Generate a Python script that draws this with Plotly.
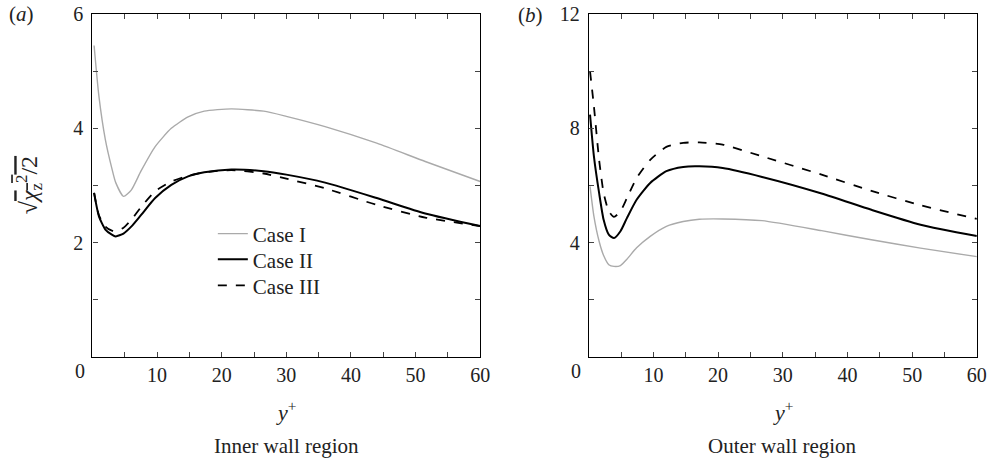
import plotly.graph_objects as go

# ---- data ----
x_in = [0.25, 1, 2, 3, 3.6, 4.8, 6, 7.5, 9.7, 12.2, 14.8, 17.3, 21.5, 26.5, 30, 36, 44, 51.5, 60]
inner_case1 = [5.45, 4.56, 3.80, 3.30, 3.05, 2.81, 2.92, 3.25, 3.68, 4.00, 4.20, 4.30, 4.34, 4.30, 4.21, 4.03, 3.74, 3.42, 3.07]
inner_case2 = [2.87, 2.46, 2.23, 2.14, 2.11, 2.16, 2.28, 2.48, 2.78, 3.01, 3.16, 3.23, 3.28, 3.25, 3.19, 3.05, 2.78, 2.51, 2.29]
inner_case3 = [2.87, 2.48, 2.28, 2.21, 2.20, 2.26, 2.40, 2.62, 2.90, 3.07, 3.17, 3.23, 3.27, 3.21, 3.12, 2.95, 2.66, 2.44, 2.29]

x_out = [0.2, 0.8, 1.6, 2.3, 3.1, 3.9, 4.9, 5.9, 7.4, 9.5, 12, 14.6, 17.1, 20.7, 26.8, 36, 43.7, 51.3, 60]
outer_case1 = [5.97, 4.92, 4.05, 3.55, 3.23, 3.17, 3.20, 3.42, 3.82, 4.22, 4.57, 4.74, 4.82, 4.83, 4.77, 4.42, 4.10, 3.81, 3.51]
outer_case2 = [8.48, 7.02, 5.74, 4.80, 4.28, 4.16, 4.40, 4.86, 5.50, 6.09, 6.50, 6.65, 6.67, 6.61, 6.30, 5.72, 5.15, 4.63, 4.23]
outer_case3 = [9.99, 8.77, 6.90, 5.74, 5.10, 4.90, 5.10, 5.56, 6.26, 6.90, 7.35, 7.49, 7.51, 7.43, 7.02, 6.38, 5.81, 5.31, 4.83]

case_names = ["Case I", "Case II", "Case III"]
x_ticks = [0, 5, 10, 15, 20, 25, 30, 35, 40, 45, 50, 55, 60]
x_ticktext = ["", "", "10", "", "20", "", "30", "", "40", "", "50", "", "60"]
y_ticks_in = [0, 1, 2, 3, 4, 5, 6]
y_ticktext_in = ["", "", "2", "", "4", "", "6"]
y_ticks_out = [0, 2, 4, 6, 8, 10, 12]
y_ticktext_out = ["", "", "4", "", "8", "", "12"]

FONT = "Liberation Serif"
TXT = "#222"
styles = [dict(color="#aaaaaa", width=1.4, dash="solid"),
          dict(color="black", width=2, dash="solid"),
          dict(color="black", width=1.8, dash="dash")]
legend_keys = ["legend", "legend2", "legend3"]

fig = go.Figure()
for i, (ys, name) in enumerate(zip([inner_case1, inner_case2, inner_case3], case_names)):
    fig.add_trace(go.Scatter(x=x_in, y=ys, mode="lines", name=name,
                             line=dict(shape="spline", smoothing=0.6, **styles[i]),
                             xaxis="x", yaxis="y", showlegend=True, legend=legend_keys[i]))
for i, (ys, name) in enumerate(zip([outer_case1, outer_case2, outer_case3], case_names)):
    fig.add_trace(go.Scatter(x=x_out, y=ys, mode="lines", name=name,
                             line=dict(shape="spline", smoothing=0.6, **styles[i]),
                             xaxis="x2", yaxis="y2", showlegend=False))

axis_common = dict(showline=True, linecolor="black", linewidth=1.2, mirror="ticks", ticks="inside",
                   ticklen=5, tickcolor="#444", tickwidth=1, showgrid=False, zeroline=False,
                   tickfont=dict(family=FONT, size=20, color=TXT))

leg_common = dict(xanchor="left", yanchor="middle", bgcolor="rgba(0,0,0,0)",
                  font=dict(family=FONT, size=21, color=TXT), borderwidth=0)

fig.update_layout(
    width=999, height=459,
    margin=dict(l=0, r=0, t=14, b=102),
    plot_bgcolor="white", paper_bgcolor="white",
    xaxis=dict(domain=[0.0935, 0.4855], range=[0, 60], tickvals=x_ticks, ticktext=x_ticktext, anchor="y", **axis_common),
    yaxis=dict(domain=[0, 1], range=[0, 6], tickvals=y_ticks_in, ticktext=y_ticktext_in, anchor="x", ticklabelstandoff=4, **axis_common),
    xaxis2=dict(domain=[0.5953, 0.9877], range=[0, 60], tickvals=x_ticks, ticktext=x_ticktext, anchor="y2", **axis_common),
    yaxis2=dict(domain=[0, 1], range=[0, 12], tickvals=y_ticks_out, ticktext=y_ticktext_out, anchor="x2", ticklabelstandoff=4, **axis_common),
    legend=dict(x=0.2152, y=0.3586, **leg_common),
    legend2=dict(x=0.2152, y=0.2837, **leg_common),
    legend3=dict(x=0.2152, y=0.2079, **leg_common),
    showlegend=True,
)

ann = []
for xp in [0.0805, 0.5820]:
    ann.append(dict(xref="paper", yref="paper", x=xp, y=-0.042, text="0", showarrow=False,
                    xanchor="center", yanchor="middle", font=dict(family=FONT, size=20, color=TXT)))
for xp in [0.2895, 0.7915]:
    ann.append(dict(xref="paper", yref="paper", x=xp, y=-0.1586, text="<i>y</i><sup>+</sup>", showarrow=False,
                    xanchor="center", yanchor="middle", font=dict(family=FONT, size=22, color=TXT)))
for xp, t in [(0.2895, "Inner wall region"), (0.7915, "Outer wall region")]:
    ann.append(dict(xref="paper", yref="paper", x=xp, y=-0.2609, text=t, showarrow=False,
                    xanchor="center", yanchor="middle", font=dict(family=FONT, size=21, color=TXT)))
ann.append(dict(xref="paper", yref="paper", x=0.007, y=1.0, text="(<i>a</i>)", showarrow=False,
                xanchor="left", yanchor="middle", font=dict(family=FONT, size=21, color=TXT)))
ann.append(dict(xref="paper", yref="paper", x=0.522, y=0.998, text="(<i>b</i>)", showarrow=False,
                xanchor="left", yanchor="middle", font=dict(family=FONT, size=21, color=TXT)))
ann.append(dict(xref="paper", yref="paper", x=0.029, y=0.50, textangle=-90,
                text="√<span style='text-decoration:overline'><i>χ</i><sub>z</sub><sup>2</sup>/2</span>",
                showarrow=False, xanchor="center", yanchor="middle", font=dict(family=FONT, size=24, color=TXT)))
fig.update_layout(annotations=ann)

fig.write_html("out.html", config={"displayModeBar": False},
               post_script="document.body.style.margin='0';document.body.style.overflow='hidden';")
